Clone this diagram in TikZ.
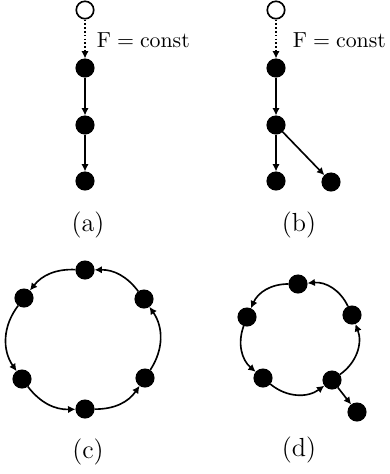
\documentclass[tikz,border=0pt]{standalone}
\usepackage{amsmath}
\usepackage{tikz}
\usetikzlibrary{arrows.meta}
\tikzset{
  dotnode/.style={draw, circle, minimum size=8pt, inner sep=0pt, fill=black},
  opennode/.style={draw, circle, minimum size=8pt, inner sep=0pt, fill=white}
}

\begin{document}
\begin{tikzpicture}[x=0.4587pt, y=-0.4587pt, line width=0.75pt, >={Latex[length=3.4pt,width=3.4pt]}]
  \useasboundingbox (0,0) rectangle (390,474);
  % (a)
  \node[opennode] (a0) at (85,10) {};
  \node[dotnode] (a1) at (85,68) {};
  \node[dotnode] (a2) at (85,125) {};
  \node[dotnode] (a3) at (85,181) {};
  \draw[->, densely dotted] (a0) -- (a1);
  \draw[->] (a1) -- (a2);
  \draw[->] (a2) -- (a3);
  \node[anchor=base west, inner sep=0pt] (fa) at (96,47) {$\mathrm{F} = \mathrm{const}$};
  \node (la) at (88,225) {\large (a)};
  % (b)
  \node[opennode] (b0) at (276,10) {};
  \node[dotnode] (b1) at (276,68) {};
  \node[dotnode] (b2) at (276,125) {};
  \node[dotnode] (b3) at (276,181) {};
  \node[dotnode] (b4) at (331,182) {};
  \draw[->, densely dotted] (b0) -- (b1);
  \draw[->] (b1) -- (b2);
  \draw[->] (b2) -- (b3);
  \draw[->] (b2) -- (b4);
  \node[anchor=base west, inner sep=0pt] (fb) at (292,47) {$\mathrm{F} = \mathrm{const}$};
  \node (lb) at (299,225) {\large (b)};
  % (c)
  \node[dotnode] (c1) at (85,270) {};
  \node[dotnode] (c2) at (24,298) {};
  \node[dotnode] (c3) at (22,379) {};
  \node[dotnode] (c4) at (85,409) {};
  \node[dotnode] (c5) at (145,378) {};
  \node[dotnode] (c6) at (144,299) {};
  \draw[->] (c1) to[bend right=27] (c2);
  \draw[->] (c2) to[bend right=36] (c3);
  \draw[->] (c3) to[bend right=27] (c4);
  \draw[->] (c4) to[bend right=28] (c5);
  \draw[->] (c5) to[bend right=34] (c6);
  \draw[->] (c6) to[bend right=27] (c1);
  \node (lc) at (88,452) {\large (c)};
  % (d)
  \node[dotnode] (d1) at (298,284) {};
  \node[dotnode] (d2) at (247,317) {};
  \node[dotnode] (d3) at (263,378) {};
  \node[dotnode] (d4) at (332,380) {};
  \node[dotnode] (d5) at (352,315) {};
  \node[dotnode] (d6) at (357,412) {};
  \draw[->] (d1) to[bend right=33] (d2);
  \draw[->] (d2) to[bend right=35] (d3);
  \draw[->] (d3) to[bend right=38] (d4);
  \draw[->] (d4) to[bend right=38] (d5);
  \draw[->] (d5) to[bend right=35] (d1);
  \draw[->] (d4) -- (d6);
  \node (ld) at (299,450) {\large (d)};
\end{tikzpicture}
\end{document}
